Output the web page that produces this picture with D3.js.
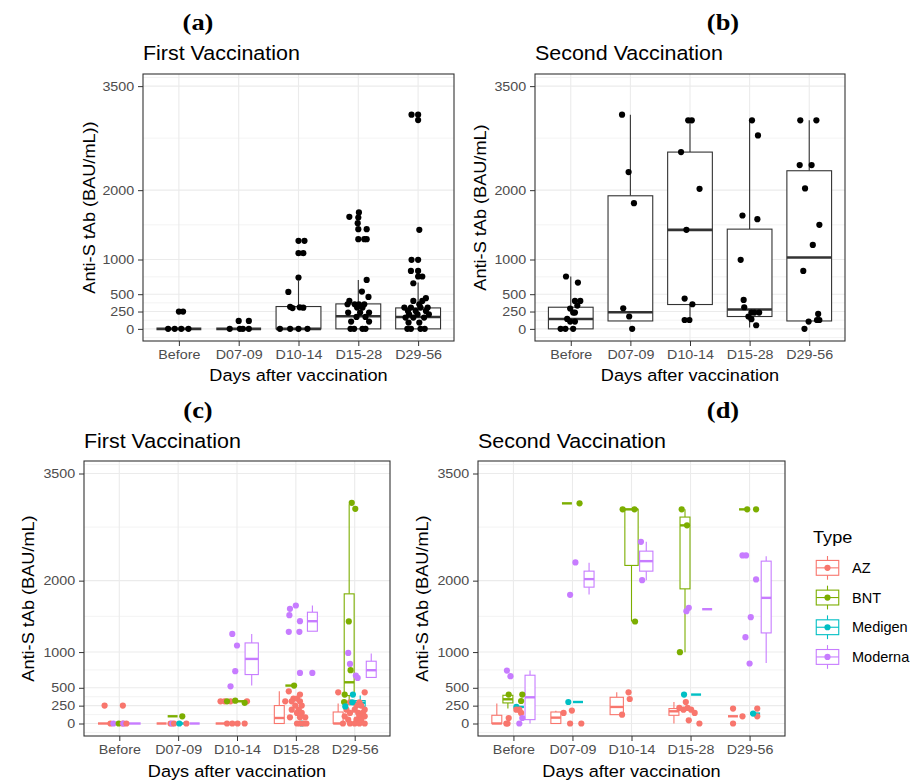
<!DOCTYPE html>
<html>
<head>
<meta charset="utf-8">
<script src="https://cdn.jsdelivr.net/npm/d3@7"></script>
<style>
  body { margin: 0; background: #fff; }
  svg text { font-family: "Liberation Sans", Arial, sans-serif; }
</style>
</head>
<body>
<svg id="chart" width="910" height="780"></svg>
<script>
const categories = ['Before', 'D07-09', 'D10-14', 'D15-28', 'D29-56'];
const yTicks = [0, 250, 500, 1000, 2000, 3500];
const yMinor = [-125, 125, 375, 750, 1500, 2750, 3625];
const yDomain = [-175, 3675];
const types = ['AZ', 'BNT', 'Medigen', 'Moderna'];
const typeColors = ['#F8766D', '#7CAE00', '#00BFC4', '#C77CFF'];

// box stats per category: [low whisker, q1, median, q3, high whisker]
const firstBoxes = [
    [0, 0, 0, 0, 0],
    [0, 0, 0, 0, 0],
    [0, 0, 0, 322, 692],
    [0, 0, 182, 360, 706],
    [0, 0, 172, 302, 668]
];
const secondBoxes = [
    [0, 0, 143, 312, 755],
    [114, 114, 240, 1919, 3088],
    [128, 351, 1428, 2549, 3007],
    [20, 178, 279, 1438, 3007],
    [114, 114, 1029, 2280, 3007]
];

// points: [category index, value, jitter (category units)]
const firstPoints = [
    [0, 0, -0.18], [0, 0, -0.07], [0, 0, 0.04], [0, 0, 0.16], [0, 250, 0], [0, 250, 0.07],
    [1, 0, -0.15], [1, 0, 0.02], [1, 0, 0.07], [1, 0, 0.17], [1, 114, 0], [1, 114, 0.17],
    [2, 0, -0.31], [2, 0, -0.14], [2, 0, 0], [2, 0, 0.15], [2, 318, -0.14], [2, 300, -0.1],
    [2, 310, 0.02], [2, 305, 0.08], [2, 533, -0.17], [2, 740, 0], [2, 1091, 0], [2, 1091, 0.08],
    [2, 1269, 0], [2, 1269, 0.1],
    [3, 1679, 0.01], [3, 1615, -0.15], [3, 1606, 0], [3, 1524, -0.01], [3, 1438, 0], [3, 1438, 0.14],
    [3, 1293, 0], [3, 1293, 0.1], [3, 1293, 0.14], [3, 706, 0.14], [3, 538, 0.06], [3, 461, 0.17],
    [3, 403, -0.15], [3, 355, -0.18], [3, 355, -0.06], [3, 355, 0.01], [3, 355, 0.1], [3, 307, -0.02],
    [3, 307, 0.07], [3, 235, -0.17], [3, 235, 0.03], [3, 235, 0.18], [3, 172, -0.03], [3, 172, 0.12],
    [3, 105, -0.12], [3, 105, 0.18], [3, 0, -0.13], [3, 0, -0.07], [3, 0, 0.07], [3, 0, 0.12],
    [4, 3088, -0.11], [4, 3088, 0], [4, 3011, 0], [4, 1428, 0.02], [4, 995, -0.11], [4, 995, 0],
    [4, 836, -0.12], [4, 836, 0], [4, 755, 0], [4, 755, 0.07], [4, 658, -0.08], [4, 442, 0.13],
    [4, 403, -0.08], [4, 403, 0.07], [4, 355, 0.02], [4, 307, -0.23], [4, 307, -0.12], [4, 307, 0.04],
    [4, 307, 0.16], [4, 258, -0.17], [4, 258, -0.04], [4, 258, 0.13], [4, 211, -0.15], [4, 211, -0.01],
    [4, 211, 0.18], [4, 163, -0.21], [4, 163, -0.08], [4, 163, 0.1], [4, 91, -0.16], [4, 91, 0.02],
    [4, 0, -0.18], [4, 0, -0.12], [4, 0, 0.04], [4, 0, 0.11]
];
const secondPoints = [
    [0, 755, -0.08], [0, 668, 0.12], [0, 403, 0.07], [0, 403, 0.16], [0, 336, 0.11], [0, 293, -0.01],
    [0, 235, 0.04], [0, 235, 0.07], [0, 143, -0.06], [0, 105, -0.01], [0, 105, 0.07], [0, 0, -0.17],
    [0, 0, -0.09], [0, 0, 0.04],
    [1, 3088, -0.14], [1, 2261, -0.03], [1, 1813, 0.06], [1, 297, -0.12], [1, 178, -0.02], [1, 0, 0.03],
    [2, 3007, -0.03], [2, 3007, 0.03], [2, 2549, -0.15], [2, 2020, 0.16], [2, 1428, -0.06], [2, 437, -0.09],
    [2, 355, 0.04], [2, 128, -0.09], [2, 128, -0.01],
    [3, 3007, 0.04], [3, 2790, 0.14], [3, 1635, -0.12], [3, 1582, 0.13], [3, 995, -0.15], [3, 417, -0.1],
    [3, 312, -0.09], [3, 235, 0.03], [3, 235, 0.08], [3, 235, 0.16], [3, 178, -0.02], [3, 139, 0.03],
    [3, 52, 0.11],
    [4, 3007, -0.15], [4, 3007, 0.12], [4, 2362, -0.16], [4, 2362, 0.04], [4, 2025, -0.07], [4, 1500, 0.17],
    [4, 1211, 0.06], [4, 836, -0.1], [4, 215, 0.15], [4, 128, 0.13], [4, 128, 0.17], [4, 105, -0.01],
    [4, 0, -0.08]
];

// per type boxes: [category index, type index, low, q1, median, q3, high]
const firstTypeBoxes = [
    [0, 0, 0, 0, 0, 0, 0], [0, 1, 0, 0, 0, 0, 0], [0, 3, 0, 0, 0, 0, 0],
    [1, 0, 0, 0, 0, 0, 0], [1, 1, 101, 101, 101, 101, 101], [1, 2, 0, 0, 0, 0, 0], [1, 3, 0, 0, 0, 0, 0],
    [2, 0, 0, 0, 0, 0, 0], [2, 1, 311, 311, 311, 311, 311], [2, 3, 531, 685, 904, 1128, 1254],
    [3, 0, 0, 0, 77, 251, 451], [3, 1, 531, 531, 531, 531, 531], [3, 2, 0, 0, 0, 0, 0],
    [3, 3, 1292, 1292, 1432, 1558, 1652],
    [4, 0, 0, 0, 0, 161, 279], [4, 1, 301, 391, 577, 1815, 3068], [4, 2, 241, 241, 290, 321, 391],
    [4, 3, 637, 645, 746, 872, 980]
];
const secondTypeBoxes = [
    [0, 0, 0, 0, 0, 115, 279], [0, 1, 209, 288, 339, 395, 425], [0, 2, 232, 232, 232, 232, 232],
    [0, 3, 0, 54, 367, 676, 741],
    [1, 0, 0, 0, 82, 161, 178], [1, 1, 3082, 3082, 3082, 3082, 3082], [1, 2, 301, 301, 301, 301, 301],
    [1, 3, 1807, 1909, 2021, 2133, 2250],
    [2, 0, 124, 124, 232, 367, 437], [2, 1, 1428, 2213, 2998, 2998, 2998], [2, 3, 2007, 2133, 2273, 2413, 2544],
    [3, 0, 0, 115, 171, 209, 301], [3, 1, 998, 1885, 2774, 2890, 2998], [3, 2, 405, 405, 405, 405, 405],
    [3, 3, 1600, 1600, 1600, 1600, 1600],
    [4, 0, 101, 101, 101, 101, 101], [4, 1, 2998, 2998, 2998, 2998, 2998], [4, 2, 139, 139, 139, 139, 139],
    [4, 3, 848, 1268, 1759, 2273, 2343]
];

// per type points: [category index, type index, value, jitter]
const firstTypePoints = [
    [0, 0, 251, -0.25], [0, 0, 251, 0.06], [0, 0, 0, -0.15], [0, 3, 0, -0.1], [0, 1, 0, -0.01],
    [0, 0, 0, 0.06], [0, 3, 0, 0.07], [0, 0, 0, 0.12],
    [1, 0, 0, -0.13], [1, 3, 0, -0.1], [1, 0, 0, -0.07], [1, 2, 0, 0.02], [1, 1, 101, 0.07], [1, 0, 0, 0.14],
    [2, 0, 0, -0.17], [2, 0, 0, -0.08], [2, 0, 0, 0.01], [2, 0, 0, 0.13], [2, 0, 311, -0.28],
    [2, 0, 311, -0.21], [2, 0, 311, -0.11], [2, 0, 311, 0.17], [2, 1, 311, -0.17], [2, 1, 320, -0.03],
    [2, 1, 290, 0.13], [2, 3, 1254, -0.08], [2, 3, 1092, 0], [2, 3, 732, -0.03], [2, 3, 521, -0.11],
    [3, 2, 0, 0.1], [3, 0, 451, -0.12], [3, 0, 405, 0.07], [3, 0, 349, -0.04], [3, 0, 349, 0.02],
    [3, 0, 311, -0.18], [3, 0, 311, -0.07], [3, 0, 311, 0.07], [3, 0, 251, -0.01], [3, 0, 251, 0.1],
    [3, 0, 194, -0.07], [3, 0, 194, 0.05], [3, 0, 148, 0.02], [3, 0, 148, 0.1], [3, 0, 87, -0.1],
    [3, 0, 87, 0.07], [3, 0, 87, 0.16], [3, 0, 0, 0.02], [3, 0, 0, 0.07], [3, 0, 0, 0.13], [3, 0, 0, 0.18],
    [3, 1, 531, -0.03], [3, 3, 1652, 0], [3, 3, 1605, -0.1], [3, 3, 1516, -0.11], [3, 3, 1432, 0.07],
    [3, 3, 1283, -0.12], [3, 3, 1283, 0.06], [3, 3, 708, 0.07], [3, 3, 708, 0.28],
    [4, 0, 437, -0.28], [4, 0, 437, 0.17], [4, 0, 297, -0.08], [4, 0, 297, 0.08], [4, 0, 251, 0.03],
    [4, 0, 251, 0.11], [4, 0, 194, -0.14], [4, 0, 194, 0], [4, 0, 194, 0.17], [4, 0, 148, -0.08],
    [4, 0, 148, 0.06], [4, 0, 148, 0.14], [4, 0, 101, -0.17], [4, 0, 101, 0.08], [4, 0, 101, 0.17],
    [4, 0, 54, -0.11], [4, 0, 54, 0.03], [4, 0, 54, 0.11], [4, 0, 0, -0.2], [4, 0, 0, -0.08],
    [4, 0, 0, 0], [4, 0, 0, 0.08], [4, 0, 0, 0.17],
    [4, 1, 3090, -0.05], [4, 1, 3006, 0.01], [4, 1, 1429, -0.1], [4, 1, 746, -0.07], [4, 1, 405, -0.17],
    [4, 1, 301, -0.18], [4, 2, 405, -0.03], [4, 2, 297, -0.04], [4, 2, 239, -0.16],
    [4, 3, 988, -0.11], [4, 3, 834, -0.08], [4, 3, 671, 0.02], [4, 3, 638, 0.05]
];
const secondTypePoints = [
    [0, 3, 741, -0.11], [0, 3, 662, -0.05], [0, 1, 405, -0.08], [0, 1, 405, 0.15], [0, 1, 315, 0.13],
    [0, 1, 209, 0.06], [0, 2, 232, 0.05], [0, 0, 194, 0.05], [0, 0, 194, 0.1], [0, 0, 148, 0.13],
    [0, 0, 77, -0.08], [0, 0, 0, -0.12], [0, 0, 0, -0.1], [0, 3, 77, 0.15], [0, 3, 0, 0.1],
    [1, 0, 148, -0.15], [1, 0, 181, -0.01], [1, 0, 0, -0.04], [1, 0, 0, 0.15], [1, 1, 3082, 0.12],
    [1, 2, 301, -0.07], [1, 3, 2255, 0.05], [1, 3, 1801, -0.04],
    [2, 0, 437, -0.05], [2, 0, 343, -0.03], [2, 0, 124, -0.16], [2, 1, 2998, -0.15], [2, 1, 2998, 0.05],
    [2, 1, 1428, 0.06], [2, 3, 2544, 0.16], [2, 3, 2007, 0.18],
    [3, 1, 2998, -0.15], [3, 1, 2774, -0.06], [3, 1, 998, -0.18], [3, 3, 1619, -0.03], [3, 3, 1572, -0.07],
    [3, 2, 405, -0.11], [3, 0, 301, -0.08], [3, 0, 218, -0.19], [3, 0, 218, -0.05], [3, 0, 194, -0.12],
    [3, 0, 194, 0.01], [3, 0, 148, 0.07], [3, 0, 45, -0.03], [3, 0, 0, 0.15],
    [4, 1, 2998, -0.04], [4, 1, 2998, 0.11], [4, 3, 2353, -0.12], [4, 3, 2353, -0.06], [4, 3, 2017, 0.11],
    [4, 3, 1488, 0.02], [4, 3, 1208, -0.07], [4, 3, 840, 0], [4, 0, 209, -0.28], [4, 0, 209, 0.13],
    [4, 0, 101, -0.12], [4, 0, 101, 0.13], [4, 0, 0, -0.28], [4, 2, 139, 0.06]
];

const PANELS = [
    { x0: 143, x1: 454, y0: 74, y1: 341, tag: '(a)', tagX: 198, tagY: 30, title: 'First Vaccination', titleY: 60,
      yTitle: 'Anti-S tAb (BAU/mL))', yTitleX: 95, xTitleY: 381 },
    { x0: 535, x1: 845, y0: 74, y1: 341, tag: '(b)', tagX: 723, tagY: 30, title: 'Second Vaccination', titleY: 60,
      yTitle: 'Anti-S tAb (BAU/mL)', yTitleX: 486, xTitleY: 381 },
    { x0: 84, x1: 390, y0: 461, y1: 736, tag: '(c)', tagX: 198, tagY: 418, title: 'First Vaccination', titleY: 448,
      yTitle: 'Anti-S tAb (BAU/mL)', yTitleX: 34, xTitleY: 777 },
    { x0: 478, x1: 785, y0: 461, y1: 736, tag: '(d)', tagX: 723, tagY: 418, title: 'Second Vaccination', titleY: 448,
      yTitle: 'Anti-S tAb (BAU/mL)', yTitleX: 428, xTitleY: 777 }
];

const BOX_WIDTH = 0.75;
const POINT_R = 3.1;
const BORDER = '#333333';
const GRID = '#EBEBEB';
const STRETCH = 1.1;

const svg = d3.select('#chart');
svg.append('rect').attr('width', 910).attr('height', 780).attr('fill', '#fff');

function addText(parent, x, y, str, o) {
    const rot = o.rotate ? ` rotate(${o.rotate})` : '';
    const t = parent.append('text')
        .attr('transform', `translate(${x},${y})${rot} scale(${o.sx || STRETCH},1)`)
        .attr('text-anchor', o.anchor || 'start')
        .attr('fill', o.fill || '#000')
        .style('font-size', o.size + 'px')
        .text(str);
    if (o.family) t.style('font-family', o.family);
    if (o.weight) t.style('font-weight', o.weight);
    if (o.baseline) t.attr('dominant-baseline', o.baseline);
    return t;
}

function drawFrame(p) {
    const x = d3.scalePoint().domain(categories).range([p.x0, p.x1]).padding(0.6);
    const y = d3.scaleLinear().domain(yDomain).range([p.y1, p.y0]);
    const g = svg.append('g');

    g.selectAll('.minor').data(yMinor).enter().append('line')
        .attr('x1', p.x0).attr('x2', p.x1)
        .attr('y1', d => y(d)).attr('y2', d => y(d))
        .attr('stroke', GRID).attr('stroke-width', 0.6);
    g.selectAll('.major').data(yTicks).enter().append('line')
        .attr('x1', p.x0).attr('x2', p.x1)
        .attr('y1', d => y(d)).attr('y2', d => y(d))
        .attr('stroke', GRID).attr('stroke-width', 1.1);
    g.selectAll('.vmajor').data(categories).enter().append('line')
        .attr('x1', d => x(d)).attr('x2', d => x(d))
        .attr('y1', p.y0).attr('y2', p.y1)
        .attr('stroke', GRID).attr('stroke-width', 1.1);

    const yAxis = g.append('g')
        .attr('transform', `translate(${p.x0},0)`)
        .call(d3.axisLeft(y).tickValues(yTicks).tickFormat(d3.format('d')).tickSize(5).tickPadding(3));
    const xAxis = g.append('g')
        .attr('transform', `translate(0,${p.y1})`)
        .call(d3.axisBottom(x).tickSize(5).tickPadding(4));
    [yAxis, xAxis].forEach(ax => {
        ax.select('.domain').remove();
        ax.selectAll('line').attr('stroke', BORDER).attr('stroke-width', 1);
        ax.selectAll('text')
            .attr('fill', '#4D4D4D')
            .attr('transform', `scale(${STRETCH},1)`)
            .style('font-size', '13px')
            .style('font-family', '"Liberation Sans", Arial, sans-serif');
    });

    addText(svg, p.tagX, p.tagY, p.tag, { size: 23, anchor: 'middle', weight: 'bold', sx: 1.15,
        family: '"Liberation Serif", "DejaVu Serif", serif' });
    addText(svg, p.x0, p.titleY, p.title, { size: 19.5 });
    addText(svg, (p.x0 + p.x1) / 2, p.xTitleY, 'Days after vaccination', { size: 16.5, anchor: 'middle' });
    addText(svg, p.yTitleX, (p.y0 + p.y1) / 2, p.yTitle, { size: 16.5, anchor: 'middle', rotate: -90 });

    return { x, y, step: x.step(), g: svg.append('g') };
}

function drawBox(g, y, cx, w, st, color, medWidth) {
    const [low, q1, med, q3, high] = st;
    if (high > q3) {
        g.append('line').attr('x1', cx).attr('x2', cx).attr('y1', y(q3)).attr('y2', y(high))
            .attr('stroke', color).attr('stroke-width', 1.1);
    }
    if (low < q1) {
        g.append('line').attr('x1', cx).attr('x2', cx).attr('y1', y(q1)).attr('y2', y(low))
            .attr('stroke', color).attr('stroke-width', 1.1);
    }
    if (q3 > q1) {
        g.append('rect').attr('x', cx - w / 2).attr('y', y(q3))
            .attr('width', w).attr('height', y(q1) - y(q3))
            .attr('fill', '#fff').attr('stroke', color).attr('stroke-width', 1.1);
    }
    g.append('line').attr('x1', cx - w / 2).attr('x2', cx + w / 2)
        .attr('y1', y(med)).attr('y2', y(med))
        .attr('stroke', color).attr('stroke-width', medWidth);
}

function border(p) {
    svg.append('rect').attr('x', p.x0).attr('y', p.y0)
        .attr('width', p.x1 - p.x0).attr('height', p.y1 - p.y0)
        .attr('fill', 'none').attr('stroke', BORDER).attr('stroke-width', 1.1);
}

function plainPanel(p, boxes, points) {
    const s = drawFrame(p);
    boxes.forEach((st, i) => {
        drawBox(s.g, s.y, s.x(categories[i]), BOX_WIDTH * s.step, st, BORDER, 2.6);
    });
    s.g.selectAll('circle').data(points).enter().append('circle')
        .attr('cx', d => s.x(categories[d[0]]) + d[2] * s.step)
        .attr('cy', d => s.y(d[1]))
        .attr('r', POINT_R)
        .attr('fill', '#000');
    border(p);
}

function typePanel(p, boxes, points) {
    const s = drawFrame(p);
    categories.forEach((c, ci) => {
        const present = boxes.filter(b => b[0] === ci).sort((a, b) => a[1] - b[1]);
        const n = present.length;
        const slot = BOX_WIDTH / n;
        present.forEach((b, i) => {
            const cx = s.x(c) + (-BOX_WIDTH / 2 + slot * (i + 0.5)) * s.step;
            drawBox(s.g, s.y, cx, slot * 0.9 * s.step, b.slice(2), typeColors[b[1]], 2.4);
        });
    });
    s.g.selectAll('circle').data(points).enter().append('circle')
        .attr('cx', d => s.x(categories[d[0]]) + d[3] * s.step)
        .attr('cy', d => s.y(d[2]))
        .attr('r', POINT_R)
        .attr('fill', d => typeColors[d[1]]);
    border(p);
}

plainPanel(PANELS[0], firstBoxes, firstPoints);
plainPanel(PANELS[1], secondBoxes, secondPoints);
typePanel(PANELS[2], firstTypeBoxes, firstTypePoints);
typePanel(PANELS[3], secondTypeBoxes, secondTypePoints);

// Legend
const legend = svg.append('g');
addText(legend, 813, 543, 'Type', { size: 16.5 });
const keyW = 30, keyH = 29.7, keyX = 812.5, keyTop = 553;
types.forEach((t, i) => {
    const ky = keyTop + i * keyH;
    const cx = keyX + keyW / 2;
    const col = typeColors[i];
    legend.append('line').attr('x1', cx).attr('x2', cx)
        .attr('y1', ky + 0.1 * keyH).attr('y2', ky + 0.9 * keyH)
        .attr('stroke', col).attr('stroke-width', 1.1);
    legend.append('rect').attr('x', keyX + 0.125 * keyW).attr('y', ky + 0.25 * keyH)
        .attr('width', 0.75 * keyW).attr('height', 0.5 * keyH)
        .attr('fill', '#fff').attr('stroke', col).attr('stroke-width', 1.1);
    legend.append('line').attr('x1', keyX + 0.125 * keyW).attr('x2', keyX + 0.875 * keyW)
        .attr('y1', ky + keyH / 2).attr('y2', ky + keyH / 2)
        .attr('stroke', col).attr('stroke-width', 1.1);
    legend.append('circle').attr('cx', cx).attr('cy', ky + keyH / 2).attr('r', POINT_R).attr('fill', col);
    addText(legend, 852, ky + keyH / 2, t, { size: 14.5, sx: 1.0, baseline: 'central' });
});
</script>
</body>
</html>
